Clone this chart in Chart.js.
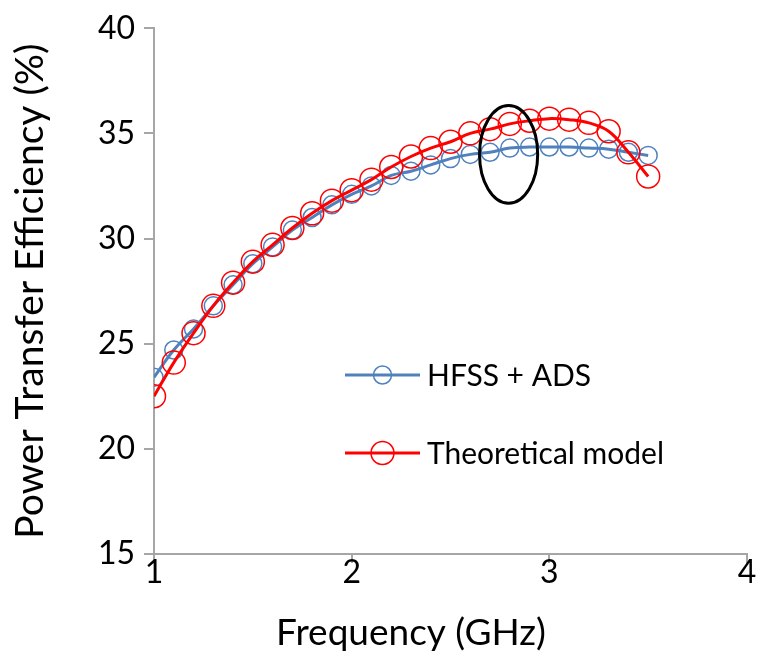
<!DOCTYPE html>
<html>
<head>
<meta charset="utf-8">
<script src="https://cdn.jsdelivr.net/npm/chart.js@4/dist/chart.umd.min.js"></script>
<style>
html,body{margin:0;padding:0;background:#fff;}
#wrap{width:761px;height:669px;position:relative;}
</style>
</head>
<body>
<div id="wrap"><canvas id="c"></canvas></div>
<script>
const frequencies = [1.0,1.1,1.2,1.3,1.4,1.5,1.6,1.7,1.8,1.9,2.0,2.1,2.2,2.3,2.4,2.5,2.6,2.7,2.8,2.9,3.0,3.1,3.2,3.3,3.4,3.5];
const hfssAds = [23.4,24.7,25.7,26.8,27.8,28.8,29.6,30.4,31.0,31.6,32.1,32.5,33.0,33.2,33.5,33.8,34.0,34.1,34.3,34.35,34.35,34.35,34.3,34.25,34.1,33.95];
const theoretical = [22.5,24.1,25.5,26.8,27.9,28.9,29.7,30.5,31.2,31.8,32.3,32.8,33.4,33.9,34.3,34.6,35.0,35.2,35.45,35.6,35.7,35.65,35.5,35.1,34.1,32.95];
const seriesNames = ['HFSS + ADS', 'Theoretical model'];
const xTicks = [1,2,3,4];
const yTicks = [15,20,25,30,35,40];
const xTitle = 'Frequency (GHz)';
const yTitle = 'Power Transfer Efficiency (%)';
// highlight ellipse (data units)
const ellipseCenter = [2.794, 34.0];
const ellipseRadii = [0.147, 2.32];

const FONT = 'Lato, "Open Sans", sans-serif';
const BLUE = '#4f81bd';
const RED = '#ff0000';
const AXIS = '#a6a6a6';

const toPts = ys => frequencies.map((f,i)=>({x:f,y:ys[i]}));

const ellipsePlugin = {
  id:'ellipse',
  afterDatasetsDraw(chart){
    const {ctx, scales:{x,y}} = chart;
    const cx = x.getPixelForValue(ellipseCenter[0]);
    const cy = y.getPixelForValue(ellipseCenter[1]);
    const rx = Math.abs(x.getPixelForValue(ellipseCenter[0]+ellipseRadii[0]) - cx);
    const ry = Math.abs(y.getPixelForValue(ellipseCenter[1]+ellipseRadii[1]) - cy);
    ctx.save();
    ctx.beginPath();
    ctx.ellipse(cx, cy, rx, ry, 0, 0, Math.PI*2);
    ctx.lineWidth = 3;
    ctx.strokeStyle = '#000';
    ctx.stroke();
    ctx.restore();
  }
};

const legendPlugin = {
  id:'customLegend',
  afterDraw(chart){
    const ctx = chart.ctx;
    const items = [
      {name:seriesNames[0], color:BLUE, r:9, y:375},
      {name:seriesNames[1], color:RED, r:11.5, y:453}
    ];
    ctx.save();
    items.forEach(it=>{
      ctx.beginPath();
      ctx.moveTo(345, it.y); ctx.lineTo(420, it.y);
      ctx.strokeStyle = it.color; ctx.lineWidth = 3; ctx.stroke();
      ctx.beginPath();
      ctx.arc(382.5, it.y, it.r, 0, Math.PI*2);
      ctx.lineWidth = 1.5; ctx.stroke();
      ctx.fillStyle = '#000';
      ctx.font = '30px ' + FONT;
      ctx.textBaseline = 'middle';
      ctx.textAlign = 'left';
      ctx.fillText(it.name, 427, it.y + 1);
    });
    // x-axis title (offset left of the plot centre, as in the original)
    ctx.font = '37px ' + FONT;
    ctx.textAlign = 'center';
    ctx.textBaseline = 'middle';
    ctx.fillStyle = '#000';
    ctx.fillText(xTitle, 411, 633);
    ctx.restore();
  }
};

new Chart(document.getElementById('c'), {
  type:'line',
  data:{
    datasets:[
      {label:seriesNames[1], data:toPts(theoretical), borderColor:RED, backgroundColor:'transparent',
       borderWidth:3, pointRadius:11.5, pointBorderWidth:1.5, pointBorderColor:RED, pointBackgroundColor:'transparent',
       tension:0.4, order:0},
      {label:seriesNames[0], data:toPts(hfssAds), borderColor:BLUE, backgroundColor:'transparent',
       borderWidth:3, pointRadius:9, pointBorderWidth:1.5, pointBorderColor:BLUE, pointBackgroundColor:'transparent',
       tension:0.4, order:1}
    ]
  },
  options:{
    responsive:true, maintainAspectRatio:false, animation:false,
    layout:{padding:{top:24,right:14,left:0,bottom:0}},
    plugins:{legend:{display:false}, tooltip:{enabled:false}},
    scales:{
      x:{type:'linear', min:1, max:4,
        afterBuildTicks(s){ s.ticks = xTicks.map(v=>({value:v})); },
        afterFit(s){ s.height = 115; },
        grid:{drawOnChartArea:false, drawTicks:true, tickLength:9, color:AXIS, lineWidth:2},
        border:{display:true, color:AXIS, width:2},
        ticks:{font:{family:FONT, size:32}, color:'#000', padding:-10, maxRotation:0},
        title:{display:false}
      },
      y:{type:'linear', min:15, max:40,
        afterBuildTicks(s){ s.ticks = yTicks.map(v=>({value:v})); },
        afterFit(s){ s.width = 154; },
        grid:{drawOnChartArea:false, drawTicks:true, tickLength:10, color:AXIS, lineWidth:2},
        border:{display:true, color:AXIS, width:2},
        ticks:{font:{family:FONT, size:32}, color:'#000', padding:9},
        title:{display:true, text:yTitle, font:{family:FONT, size:39}, color:'#000', padding:{top:7,bottom:0}}
      }
    }
  },
  plugins:[ellipsePlugin, legendPlugin]
});
</script>
</body>
</html>
